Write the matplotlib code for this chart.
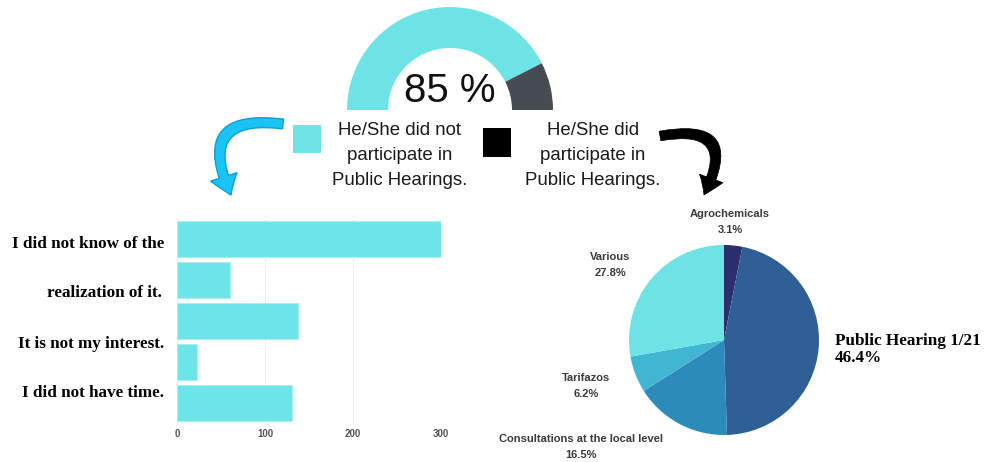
import numpy as np
import matplotlib.pyplot as plt
from matplotlib.patches import Wedge, Rectangle, FancyArrowPatch

W, H = 994, 462

# share of people who did not take part (gauge)
not_participated = 85
gauge_colors = ['#6de3e6', '#474b52']

legend_lines = [['He/She did not', 'participate in', 'Public Hearings.'],
                ['He/She did', 'participate in', 'Public Hearings.']]
legend_colors = ['#6de3e6', '#000000']

# reasons for not taking part
reason_values = [300, 60, 137, 23, 131]
reason_labels = ['I did not know of the', 'realization of it.',
                 'It is not my interest.', 'I did not have time.']
bar_ticks = [0, 100, 200, 300]
bar_color = '#6de5e8'

# topics of the hearings attended
topics = ['Agrochemicals', 'Public Hearing 1/21',
          'Consultations at the local level', 'Tarifazos', 'Various']
topic_shares = [3.1, 46.4, 16.5, 6.2, 27.8]
topic_colors = ['#2d2e6e', '#2e5f97', '#2d8bba', '#40b6d3', '#6de3e6']

SANS = 'Liberation Sans'
SERIF = 'Liberation Serif'

fig = plt.figure(figsize=(W / 100, H / 100), dpi=100)
bg = fig.add_axes([0, 0, 1, 1])
bg.set_xlim(0, W)
bg.set_ylim(H, 0)
bg.axis('off')


def stacked(x, y0, lines, step, **kw):
    """write lines one under the other, y0 is the first baseline"""
    for i, s in enumerate(lines):
        bg.text(x, y0 + i * step, s, va='baseline', **kw)


# half-donut gauge
cx, cy, r_out, r_in = 450, 110, 103, 62
split = 180 + 180 * not_participated / 100
bg.add_patch(Wedge((cx, cy), r_out, 180, split, width=r_out - r_in,
                   color=gauge_colors[0], lw=0))
bg.add_patch(Wedge((cx, cy), r_out, split, 360, width=r_out - r_in,
                   color=gauge_colors[1], lw=0))
bg.text(cx, 102, '%d %%' % not_participated, ha='center', va='baseline',
        fontsize=29, family=SANS, color='#111111')

# legend
bg.add_patch(Rectangle((293, 125), 28, 28, color=legend_colors[0], lw=0))
bg.add_patch(Rectangle((483, 128), 28, 29, color=legend_colors[1], lw=0))
stacked(400, 135, legend_lines[0], 25, ha='center', fontsize=13.4,
        family=SANS, color='#1a1a1a')
stacked(593, 135, legend_lines[1], 25, ha='center', fontsize=13.4,
        family=SANS, color='#1a1a1a')

# curved arrows
blue = FancyArrowPatch((283, 124), (231, 195),
                       connectionstyle='arc3,rad=0.9',
                       arrowstyle='simple,head_length=14,head_width=20,tail_width=7',
                       facecolor='#19c3f3', edgecolor='#0b9fd4', lw=1,
                       shrinkA=0, shrinkB=0)
black = FancyArrowPatch((660, 136), (704, 195),
                        connectionstyle='arc3,rad=-1.0',
                        arrowstyle='simple,head_length=13,head_width=18,tail_width=7',
                        facecolor='black', edgecolor='black', lw=0.5,
                        shrinkA=0, shrinkB=0)
bg.add_patch(blue)
bg.add_patch(black)

# horizontal bars
ax = fig.add_axes([177 / W, 1 - 423.5 / H, (441 - 177) / W, 205 / H])
y = np.arange(len(reason_values))
ax.barh(y, reason_values, height=0.9, color=bar_color, edgecolor='#a6f0f1',
        linewidth=0.8, zorder=2)
ax.set_xlim(0, 300)
ax.set_ylim(len(y) - 0.5, -0.5)
ax.set_yticks([])
ax.set_xticks(bar_ticks)
ax.tick_params(axis='x', length=0, labelsize=7, labelcolor='#555555', pad=4)
for lbl in ax.get_xticklabels():
    lbl.set_fontweight('bold')
    lbl.set_family(SANS)
ax.grid(axis='x', color='#eeeeee', lw=0.8, zorder=0)
for s in ax.spines.values():
    s.set_visible(False)

label_base = [248, 297, 348, 397]
label_right = [164, 162, 164, 164]
for txt, yb, xr in zip(reason_labels, label_base, label_right):
    bg.text(xr, yb, txt, ha='right', va='baseline', fontsize=12.3,
            family=SERIF, fontweight='bold', color='black')

# pie of topics
pc_x, pc_y, pr = 724, 340, 95
pax = fig.add_axes([(pc_x - pr) / W, 1 - (pc_y + pr) / H, 2 * pr / W, 2 * pr / H])
pax.pie(topic_shares, colors=topic_colors, startangle=90, counterclock=False,
        wedgeprops=dict(linewidth=0))
pax.set_xlim(-1, 1)
pax.set_ylim(-1, 1)

small = dict(ha='center', fontsize=8, family=SANS, fontweight='bold',
             color='#3a3a3a')
spots = {'Agrochemicals': (730, 217), 'Various': (610, 260),
         'Tarifazos': (586, 381), 'Consultations at the local level': (581, 442)}
for name, share in zip(topics, topic_shares):
    lines = [name, '%.1f%%' % share]
    if name in spots:
        x0, y0 = spots[name]
        stacked(x0, y0, lines, 16, **small)
    else:
        stacked(835, 345, lines, 17, ha='left', fontsize=12.3, family=SERIF,
                fontweight='bold', color='black')

fig.savefig('out.png', dpi=100)
